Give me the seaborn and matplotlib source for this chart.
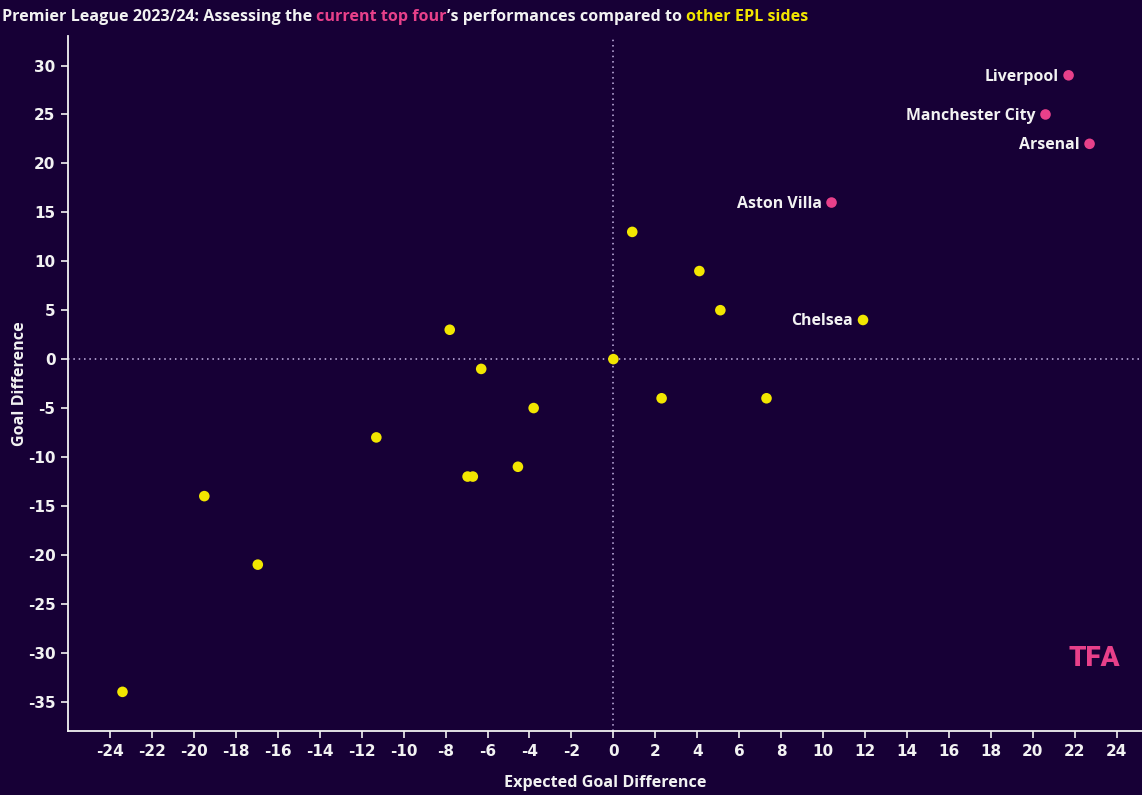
import matplotlib
matplotlib.use("Agg")
import matplotlib.pyplot as plt
import seaborn as sns
import pandas as pd

# data
teams = ["Liverpool", "Manchester City", "Arsenal", "Aston Villa", "Chelsea",
         "", "", "", "", "", "", "", "", "", "", "", "", "", "", "", ""]
xgd = [21.7, 20.6, 22.7, 10.4, 11.9,
       0.9, 4.1, 5.1, 0.0, -7.8, -6.3, -3.8, 2.3, 7.3, -11.3,
       -6.95, -6.7, -4.55, -19.5, -16.95, -23.4]
gd = [29, 25, 22, 16, 4,
      13, 9, 5, 0, 3, -1, -5, -4, -4, -8,
      -12, -12, -11, -14, -21, -34]
group = ["top4", "top4", "top4", "top4", "other",
         "other", "other", "other", "other", "other", "other", "other", "other", "other", "other",
         "other", "other", "other", "other", "other", "other"]
x_ticks = list(range(-24, 25, 2))
y_ticks = list(range(-35, 31, 5))

BG = "#170036"
PINK = "#E8408A"
YELLOW = "#F2E600"
FG = "#F2F2F2"

df = pd.DataFrame({"team": teams, "xgd": xgd, "gd": gd, "group": group})

sns.set_theme(style="white")
plt.rcParams["font.family"] = ["DejaVu Sans"]
plt.rcParams["axes.unicode_minus"] = False

fig = plt.figure(figsize=(11.42, 7.95), dpi=100, facecolor=BG)
ax = fig.add_axes([0.0595, 0.0805, 0.9405, 0.874])
ax.set_facecolor(BG)

ax.axvline(0, color="#C9B8E8", lw=1.1, ls=(0, (1, 2.5)), zorder=1)
ax.axhline(0, color="#C9B8E8", lw=1.1, ls=(0, (1, 2.5)), zorder=1)

sns.scatterplot(data=df, x="xgd", y="gd", hue="group",
                palette={"top4": PINK, "other": YELLOW},
                s=58, edgecolor="none", legend=False, ax=ax, zorder=3)

for _, r in df[df["team"] != ""].iterrows():
    ax.annotate(r["team"], (r["xgd"], r["gd"]), xytext=(-7, -1),
                textcoords="offset points", ha="right", va="center",
                color=FG, fontsize=11.4, fontweight="bold",
                family="Open Sans")

ax.set_xlim(-26, 25.2)
ax.set_ylim(-38, 33)
ax.set_xticks(x_ticks)
ax.set_yticks(y_ticks)
ax.tick_params(colors=FG, labelcolor=FG, length=5, width=1.2,
               direction="out", labelsize=11, pad=4,
               bottom=True, left=True)
for lbl in ax.get_xticklabels() + ax.get_yticklabels():
    lbl.set_fontweight("bold")

for side in ["top", "right"]:
    ax.spines[side].set_visible(False)
for side in ["left", "bottom"]:
    ax.spines[side].set_color(FG)
    ax.spines[side].set_linewidth(1.3)

ax.set_xlabel("Expected Goal Difference", color=FG, fontsize=11.6,
              fontweight="bold", family="Open Sans", labelpad=12)
ax.set_ylabel("Goal Difference", color=FG, fontsize=11.6,
              fontweight="bold", family="Open Sans")
ax.yaxis.set_label_coords(-0.037, 0.5)

# title in coloured pieces
pieces = [("Premier League 2023/24: Assessing the ", FG),
          ("current top four", PINK),
          ("\u2019s performances compared to ", FG),
          ("other EPL sides", YELLOW)]
fig.canvas.draw()
renderer = fig.canvas.get_renderer()
x_px = 2
for txt, col in pieces:
    t = fig.text(x_px / fig.bbox.width, 0.979, txt, color=col, fontsize=11.6,
                 fontweight="bold", family="Open Sans", va="center")
    bb = t.get_window_extent(renderer=renderer)
    x_px += bb.width

fig.text(0.981, 0.172, "TFA", color=PINK, fontsize=20, fontweight="heavy",
         family="Roboto", ha="right", va="center")

fig.savefig("out.png", dpi=100, facecolor=BG)
